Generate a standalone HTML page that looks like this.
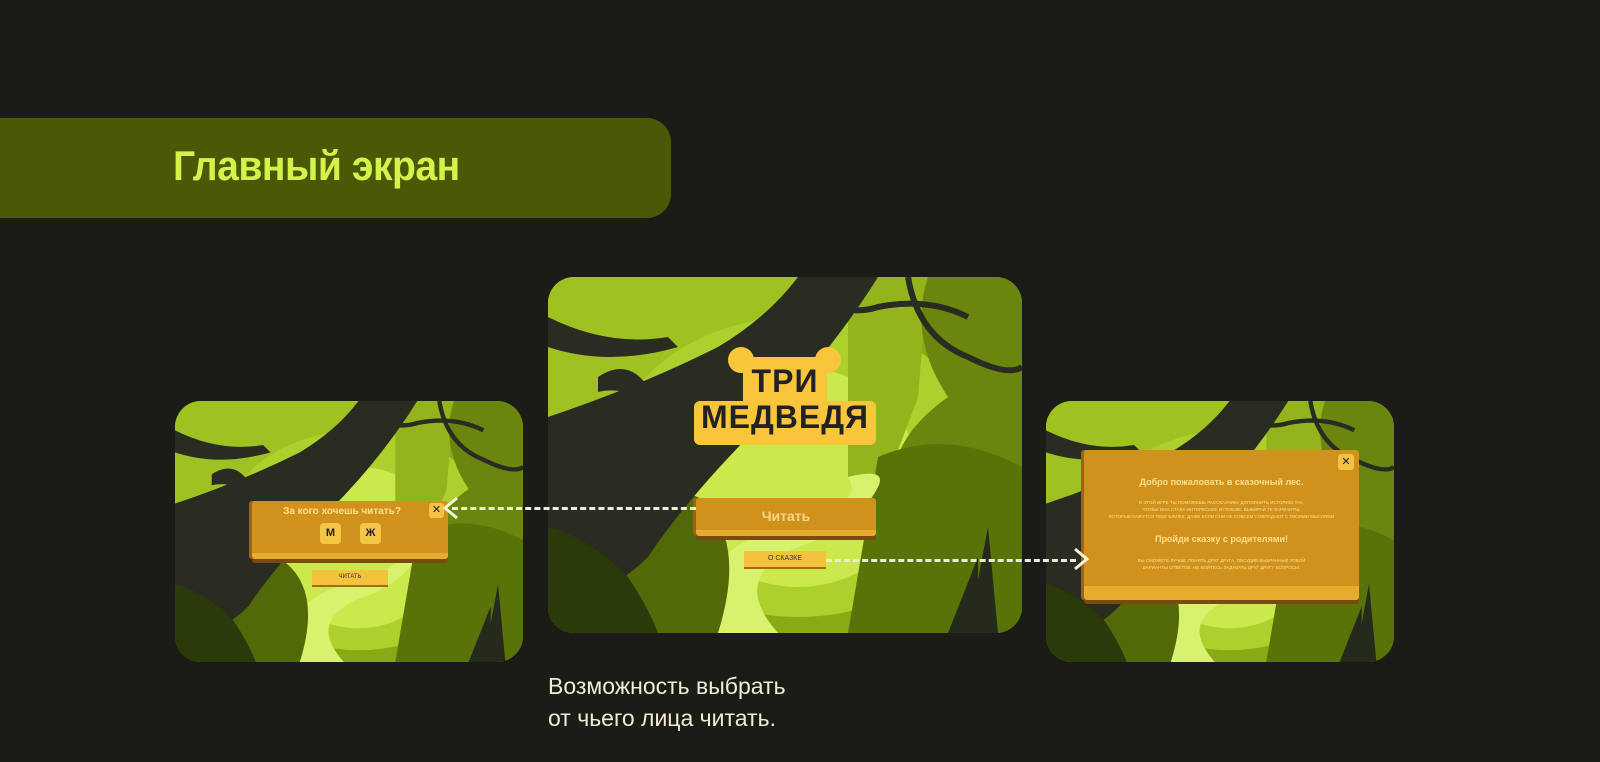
<!DOCTYPE html>
<html><head><meta charset="utf-8">
<style>
*{margin:0;padding:0;box-sizing:border-box}
body{width:1600px;height:762px;background:#1b1c17;position:relative;overflow:hidden;font-family:"Liberation Sans","DejaVu Sans",sans-serif}
.banner{position:absolute;left:0;top:118px;width:671px;height:100px;background:#4b5806;border-radius:0 24px 24px 0}
.banner span{position:absolute;left:173px;top:24px;font-size:42px;font-weight:bold;color:#d3f34a;letter-spacing:-0.5px;transform:scaleX(0.93);transform-origin:left}
.card{position:absolute;overflow:hidden;border-radius:26px}
.card svg{position:absolute;left:0;top:0;width:100%;height:100%}
.board{position:absolute;background:#d1911d;border-bottom:6px solid #e5ac2e;box-shadow:0 4px 0 #7a4a10,-3px 0 0 #9c6316;border-radius:3px}
.txt{position:absolute;color:#ffe08a;font-weight:bold;text-align:center;width:100%}
.note{position:absolute;left:548px;top:670px;color:#f2ecd2;font-size:23px;line-height:32px}
.dash{position:absolute;height:0;border-top:3px dashed #e9eedb}
</style></head><body>
<div class="banner"><span>Главный экран</span></div>

<svg width="0" height="0" style="position:absolute">
<defs>
<g id="scene">
<rect width="474" height="356" fill="#88aa14"/>
<path d="M0 0 L260 0 L200 120 L0 150Z" fill="#9ec222"/>
<ellipse cx="250" cy="190" rx="190" ry="150" fill="#acd02c"/>
<ellipse cx="250" cy="200" rx="120" ry="110" fill="#cbe94c"/>
<path d="M300 0 L380 0 L370 120 L340 200 L300 200 Z" fill="#94b41e"/>
<path d="M380 0 L474 0 L474 356 L360 356 L350 230 Q330 170 400 120 Q360 60 380 0Z" fill="#6a860e"/>
<path d="M330 180 Q400 150 474 190 L474 356 L300 356Z" fill="#587308"/>
<path d="M150 356 Q140 280 230 250 Q320 230 300 200 Q340 190 330 210 Q310 250 250 270 Q180 300 230 356Z" fill="#d8f26e"/>
<path d="M0 220 Q60 190 150 220 Q200 260 170 356 L0 356Z" fill="#52690a"/>
<path d="M0 140 Q90 110 170 70 Q220 40 250 0 L330 0 Q280 80 210 150 Q140 220 100 280 Q60 320 0 330Z" fill="#2a2c22"/>
<path d="M0 40 Q60 70 120 60 L130 70 Q60 90 0 70Z" fill="#2a2c22"/>
<path d="M50 100 Q80 80 100 110 L90 120 Q70 110 50 115Z" fill="#2a2c22"/>
<path d="M0 356 L0 250 Q40 260 80 300 Q100 330 110 356Z" fill="#2b3a0a"/>
<path d="M420 356 L440 250 L450 356Z M400 356 L430 280 L430 356Z" fill="#252a1c"/>
<path d="M260 20 Q300 40 330 30 Q380 20 420 40" stroke="#2a2c22" stroke-width="6" fill="none"/>
<path d="M360 0 Q370 60 420 80 Q460 100 474 90" stroke="#2a2c22" stroke-width="6" fill="none"/>
</g>
</defs>
</svg>

<div class="card" style="left:175px;top:401px;width:348px;height:261px">
<svg viewBox="0 0 474 356" preserveAspectRatio="none"><use href="#scene"/></svg>
<div class="board" style="left:77px;top:100px;width:196px;height:58px"></div>
<div class="txt" style="left:77px;top:105px;width:180px;font-size:10px">За кого хочешь читать?</div>
<div style="position:absolute;left:254px;top:102px;width:15px;height:15px;background:#f3c243;border-radius:3px;font-size:11px;text-align:center;line-height:15px;color:#222">✕</div>
<div style="position:absolute;left:145px;top:122px;width:21px;height:21px;background:#f5c546;border-radius:4px;font-size:11px;font-weight:bold;text-align:center;line-height:21px;color:#222">М</div>
<div style="position:absolute;left:185px;top:122px;width:21px;height:21px;background:#f5c546;border-radius:4px;font-size:11px;font-weight:bold;text-align:center;line-height:21px;color:#222">Ж</div>
<div style="position:absolute;left:137px;top:169px;width:76px;height:17px;background:#f5c23d;border-bottom:2px solid #a86a14;font-size:6px;text-align:center;line-height:15px;color:#333">ЧИТАТЬ</div>
</div>

<div class="card" style="left:548px;top:277px;width:474px;height:356px">
<svg viewBox="0 0 474 356" preserveAspectRatio="none"><use href="#scene"/></svg>
<div style="position:absolute;left:180px;top:70px;width:26px;height:26px;border-radius:50%;background:#f9c53a"></div>
<div style="position:absolute;left:267px;top:70px;width:26px;height:26px;border-radius:50%;background:#f9c53a"></div>
<div style="position:absolute;left:195px;top:80px;width:84px;height:50px;background:#f9c53a;border-radius:6px"></div>
<div style="position:absolute;left:146px;top:124px;width:182px;height:44px;background:#f9c53a;border-radius:6px"></div>
<div style="position:absolute;left:146px;top:86px;width:182px;text-align:center;font-size:32px;font-weight:bold;color:#222;line-height:36px;letter-spacing:1px">ТРИ<br>МЕДВЕДЯ</div>
<div class="board" style="left:148px;top:221px;width:180px;height:38px"></div>
<div class="txt" style="left:148px;top:231px;width:180px;font-size:14px;color:#f8d68a">Читать</div>
<div style="position:absolute;left:196px;top:274px;width:82px;height:18px;background:#f5c23d;border-bottom:2px solid #a86a14;font-size:7px;text-align:center;line-height:16px;color:#333">О СКАЗКЕ</div>
</div>

<div class="card" style="left:1046px;top:401px;width:348px;height:261px">
<svg viewBox="0 0 474 356" preserveAspectRatio="none"><use href="#scene"/></svg>
<div class="board" style="left:38px;top:49px;width:275px;height:150px;border-bottom-width:14px"></div>
<div style="position:absolute;left:292px;top:53px;width:16px;height:16px;background:#f3c243;border-radius:3px;font-size:11px;text-align:center;line-height:16px;color:#222">✕</div>
<div class="txt" style="left:38px;top:76px;width:275px;font-size:9px">Добро пожаловать в сказочный лес.</div>
<div class="txt" style="left:38px;top:98px;width:275px;font-size:4.5px;line-height:7px;font-weight:normal">В ЭТОЙ ИГРЕ ТЫ ПОМОЖЕШЬ РАССКАЗЧИКУ ДОПОЛНИТЬ ИСТОРИЮ ТАК,<br>ЧТОБЫ ОНА СТАЛА ИНТЕРЕСНЕЕ И ГЛУБЖЕ. ВЫБИРАЙ ТЕ ВАРИАНТЫ,<br>КОТОРЫЕ КАЖУТСЯ ТЕБЕ БЛИЖЕ, ДАЖЕ ЕСЛИ ОНИ НЕ СОВСЕМ СОВПАДАЮТ С ТВОИМИ МЫСЛЯМИ</div>
<div class="txt" style="left:38px;top:133px;width:275px;font-size:9px">Пройди сказку с родителями!</div>
<div class="txt" style="left:38px;top:156px;width:275px;font-size:4.5px;line-height:7px;font-weight:normal">ВЫ СМОЖЕТЕ ЛУЧШЕ ПОНЯТЬ ДРУГ ДРУГА, ОБСУДИВ ВЫБРАННЫЕ ТОБОЙ<br>ВАРИАНТЫ ОТВЕТОВ. НЕ БОЙТЕСЬ ЗАДАВАТЬ ДРУГ ДРУГУ ВОПРОСЫ.</div>
</div>

<div class="dash" style="left:452px;top:507px;width:244px"></div>
<svg style="position:absolute;left:440px;top:496px" width="20" height="24"><path d="M17 2 L5 12 L17 22" stroke="#eef2df" stroke-width="3" fill="none"/></svg>
<div class="dash" style="left:826px;top:559px;width:250px"></div>
<svg style="position:absolute;left:1072px;top:547px" width="20" height="24"><path d="M3 2 L15 12 L3 22" stroke="#eef2df" stroke-width="3" fill="none"/></svg>

<div class="note">Возможность выбрать<br>от чьего лица читать.</div>
</body></html>
